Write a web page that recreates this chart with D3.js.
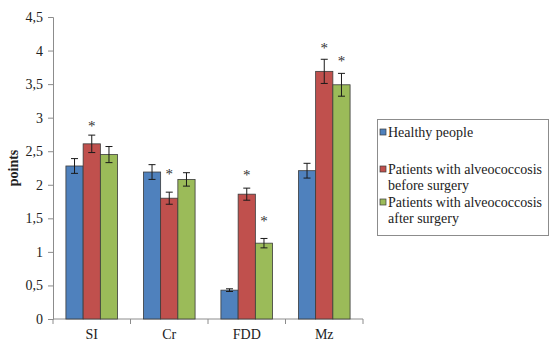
<!DOCTYPE html>
<html>
<head>
<meta charset="utf-8">
<script src="https://cdn.jsdelivr.net/npm/d3@7"></script>
<style>
  body { margin: 0; background: #fff; }
</style>
</head>
<body>
<svg id="viz"></svg>
<script>
// chart data
const categories = ["SI", "Cr", "FDD", "Mz"];
const seriesNames = [
  ["Healthy people"],
  ["Patients with alveococcosis", "before surgery"],
  ["Patients with alveococcosis", "after surgery"]
];
const healthy = [2.28, 2.19, 0.43, 2.21];
const before  = [2.61, 1.80, 1.86, 3.69];
const after   = [2.45, 2.08, 1.13, 3.49];
const healthyErr = [0.11, 0.11, 0.02, 0.11];
const beforeErr  = [0.13, 0.09, 0.09, 0.18];
const afterErr   = [0.12, 0.10, 0.07, 0.17];
// asterisk positions (in "points"), null = no mark
const beforeStar = [2.92, 2.20, 2.19, 4.08];
const afterStar  = [null, null, 1.50, 3.89];
const yTicks = [0, 0.5, 1, 1.5, 2, 2.5, 3, 3.5, 4, 4.5];

const width = 550, height = 341;
const colors = ["#4F81BD", "#C0504D", "#9BBB59"];
const serif = "'Liberation Serif', 'Times New Roman', Times, serif";

const svg = d3.select("#viz").attr("width", width).attr("height", height)
  .style("font-family", serif);

const plot = { left: 53, right: 363, top: 17, bottom: 319 };

const x = d3.scaleBand().domain(categories).range([plot.left, plot.right]);
// excel gap width 150%: three bars + 1.5 bar widths per category
const barW = x.bandwidth() / 4.5;
const y = d3.scaleLinear().domain([0, 4.5]).range([plot.bottom, plot.top]);

const fmt = d => String(d).replace(".", ",");

// y axis
const yAxis = svg.append("g")
  .attr("transform", `translate(${plot.left},0)`)
  .call(d3.axisLeft(y).tickValues(yTicks).tickFormat(fmt).tickSize(5).tickPadding(5));
yAxis.attr("font-family", null);
yAxis.select(".domain").attr("stroke", "#8c8c8c");
yAxis.selectAll(".tick line").attr("stroke", "#8c8c8c");
yAxis.selectAll("text").attr("font-size", 14).attr("fill", "#222")
  .style("font-family", serif);

// x axis with ticks between categories
const xAxis = svg.append("g").attr("transform", `translate(0,${plot.bottom})`);
xAxis.append("line").attr("x1", plot.left).attr("x2", plot.right)
  .attr("stroke", "#8c8c8c");
const bounds = categories.map(c => x(c)).concat([plot.right]);
xAxis.selectAll(".bt").data(bounds).enter().append("line")
  .attr("x1", d => d).attr("x2", d => d).attr("y1", 0).attr("y2", 5)
  .attr("stroke", "#8c8c8c");
xAxis.selectAll(".cl").data(categories).enter().append("text")
  .attr("x", d => x(d) + x.bandwidth() / 2).attr("y", 20)
  .attr("text-anchor", "middle").attr("font-size", 14).attr("fill", "#222")
  .text(d => d);

// axis title
svg.append("text")
  .attr("transform", `translate(18,${(plot.top + plot.bottom) / 2}) rotate(-90)`)
  .attr("text-anchor", "middle").attr("font-size", 14).attr("font-weight", "bold")
  .attr("fill", "#222").text("points");

const series = [
  { vals: healthy, errs: healthyErr, stars: categories.map(() => null) },
  { vals: before, errs: beforeErr, stars: beforeStar },
  { vals: after, errs: afterErr, stars: afterStar }
];

series.forEach((s, si) => {
  const g = svg.append("g");
  const bx = (i) => x(categories[i]) + 0.75 * barW + si * barW;
  const rows = categories.map((c, i) => ({ i, v: s.vals[i], e: s.errs[i], star: s.stars[i] }));

  g.selectAll("rect").data(rows).enter().append("rect")
    .attr("x", d => bx(d.i)).attr("width", barW)
    .attr("y", d => y(d.v)).attr("height", d => y(0) - y(d.v))
    .attr("fill", colors[si]).attr("stroke", "#3b3b3b").attr("stroke-width", 0.8);

  // error bars
  const eb = g.selectAll(".err").data(rows).enter().append("g")
    .attr("stroke", "#1a1a1a").attr("stroke-width", 1);
  eb.append("line")
    .attr("x1", d => bx(d.i) + barW / 2).attr("x2", d => bx(d.i) + barW / 2)
    .attr("y1", d => y(d.v + d.e)).attr("y2", d => y(d.v - d.e));
  eb.append("line")
    .attr("x1", d => bx(d.i) + barW / 2 - 3.5).attr("x2", d => bx(d.i) + barW / 2 + 3.5)
    .attr("y1", d => y(d.v + d.e)).attr("y2", d => y(d.v + d.e));
  eb.append("line")
    .attr("x1", d => bx(d.i) + barW / 2 - 3.5).attr("x2", d => bx(d.i) + barW / 2 + 3.5)
    .attr("y1", d => y(d.v - d.e)).attr("y2", d => y(d.v - d.e));

  g.selectAll(".star").data(rows.filter(d => d.star !== null)).enter().append("text")
    .attr("x", d => bx(d.i) + barW / 2).attr("y", d => y(d.star) + 8)
    .attr("text-anchor", "middle").attr("font-size", 15).attr("fill", "#333")
    .text("*");
});

// legend
const leg = svg.append("g");
leg.append("rect").attr("x", 377.5).attr("y", 119.5).attr("width", 171).attr("height", 116)
  .attr("fill", "#fff").attr("stroke", "#8c8c8c");
const legY = [132, 169, 202];
seriesNames.forEach((lines, i) => {
  leg.append("rect").attr("x", 380).attr("y", legY[i] - 3).attr("width", 6).attr("height", 6)
    .attr("fill", colors[i]).attr("stroke", "#3b3b3b").attr("stroke-width", 0.7);
  lines.forEach((t, j) => {
    leg.append("text").attr("x", 388).attr("y", legY[i] + 4.5 + j * 16)
      .attr("font-size", 14).attr("fill", "#222").text(t);
  });
});
</script>
</body>
</html>
